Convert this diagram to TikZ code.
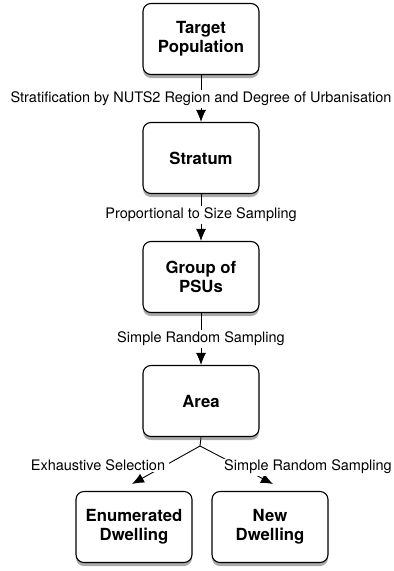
\documentclass[tikz,border=0pt]{standalone}
\usepackage{fontspec}
\setmainfont{TeX Gyre Heros}
\usetikzlibrary{shadows,arrows.meta}
\pgfdeclarelayer{background}
\pgfsetlayers{background,main}
\begin{document}
\begin{tikzpicture}[x=1pt,y=-1pt,
  box/.style={draw, line width=1.1pt, rounded corners=8pt, fill=white,
    minimum width=116pt, minimum height=71pt, align=center,
    font=\fontsize{16.7}{19}\selectfont\bfseries,
    drop shadow={shadow xshift=0pt, shadow yshift=-3.5pt, opacity=0.45, fill=black!75}},
  lab/.style={fill=white, inner sep=2pt, font=\fontsize{14.5}{16}\selectfont},
  conn/.style={line width=0.9pt, -{Latex[length=12pt,width=10pt]}}]
\useasboundingbox (0,0) rectangle (394,571);
\node[box] (t) at (201,39) {Target\\Population};
\node[box] (s) at (201,158) {Stratum};
\node[box] (g) at (201,277) {Group of\\PSUs};
\node[box] (a) at (201,401) {Area};
\node[box] (e) at (134,527) {Enumerated\\Dwelling};
\node[box] (n) at (270,527) {New\\Dwelling};
\draw[conn] (t) -- (s) node[lab, pos=0.5] (l1) {Stratification by NUTS2 Region and Degree of Urbanisation};
\draw[conn] (s) -- (g) node[lab, pos=0.45] (l2) {Proportional to Size Sampling};
\draw[conn] (g) -- (a) node[lab, pos=0.5] (l3) {Simple Random Sampling};
\coordinate (apex) at (200,446);
\coordinate (el) at (132,484);
\coordinate (nr) at (273,484);
\begin{pgfonlayer}{background}
\draw[line width=0.9pt] (a.south) -- (apex);
\end{pgfonlayer}
\draw[conn] (apex) -- (el);
\draw[conn] (apex) -- (nr);
\node[lab, inner sep=1.5pt, inner xsep=4pt] (l4) at (98,465) {Exhaustive Selection};
\node[lab, inner sep=1.5pt, inner xsep=3pt] (l5) at (308,467) {Simple Random Sampling};
\end{tikzpicture}
\end{document}
